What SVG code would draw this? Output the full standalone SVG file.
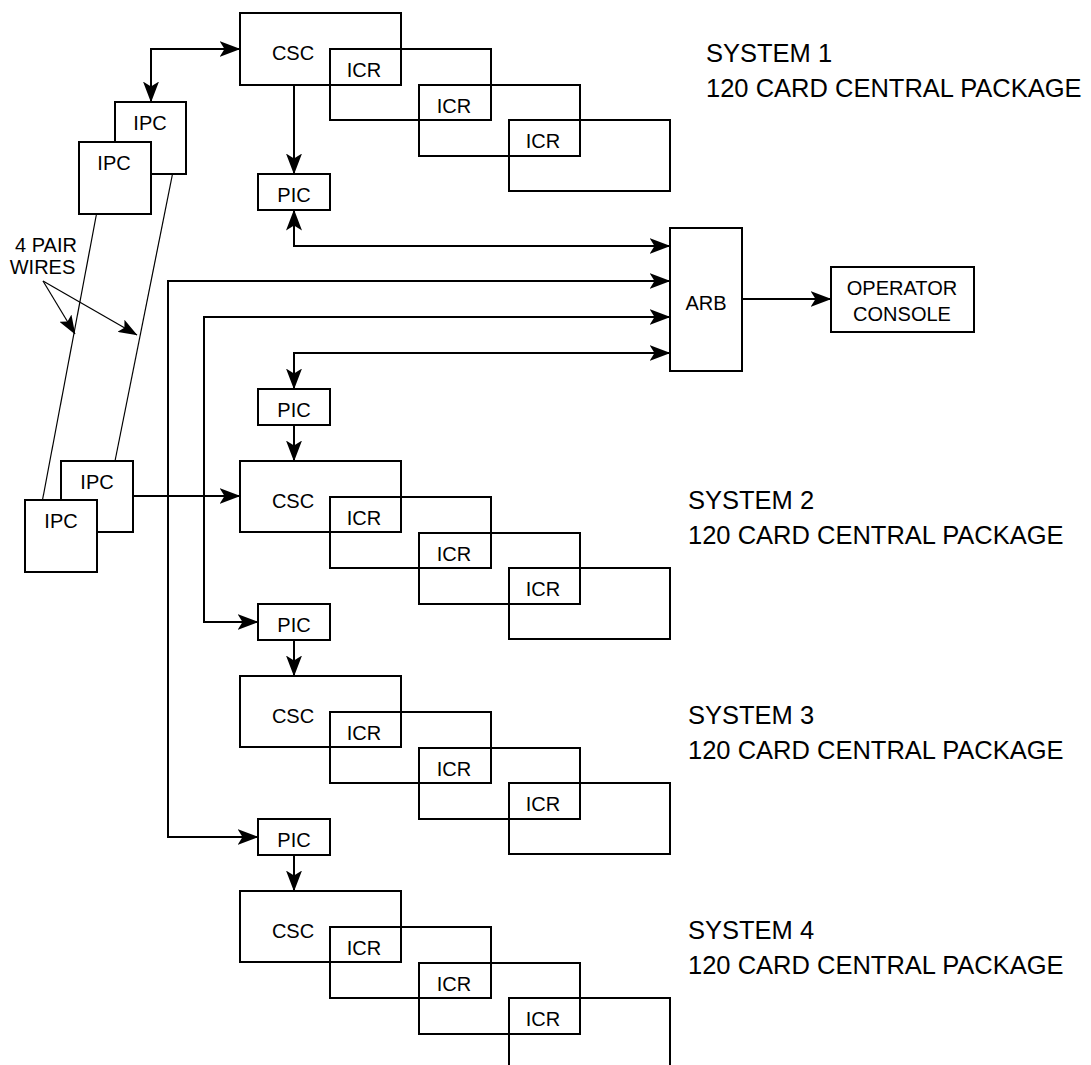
<svg xmlns="http://www.w3.org/2000/svg" width="1091" height="1065" viewBox="0 0 1091 1065">
<style>
.b{fill:none;stroke:#000;stroke-width:2}
.t{font-family:"Liberation Sans",Arial,sans-serif;font-size:20px;fill:#000;text-anchor:middle}
.s{font-family:"Liberation Sans",Arial,sans-serif;font-size:25.5px;fill:#000}
.c{fill:none;stroke:#000;stroke-width:2}
.w{fill:none;stroke:#000;stroke-width:1.2}
</style>
<defs>
<marker id="a" markerUnits="userSpaceOnUse" markerWidth="21" markerHeight="16" viewBox="0 0 21 16" refX="20.5" refY="8" orient="auto-start-reverse">
<path d="M0,0 L21,8 L0,16 L5,8 z" fill="#000"/>
</marker>
<marker id="aw" markerUnits="userSpaceOnUse" markerWidth="19" markerHeight="14" viewBox="0 0 19 14" refX="18.5" refY="7" orient="auto">
<path d="M0,0 L19,7 L0,14 L4,7 z" fill="#000"/>
</marker>
</defs>
<rect width="1091" height="1065" fill="#fff"/>

<g id="connectors">
<path class="c" d="M151,102 V49 H240" marker-start="url(#a)" marker-end="url(#a)"/>
<path class="c" d="M294,85 V174" marker-end="url(#a)"/>
<path class="c" d="M294,210 V246 H670" marker-start="url(#a)" marker-end="url(#a)"/>
<path class="c" d="M258,837 H168 V281 H670" marker-start="url(#a)" marker-end="url(#a)"/>
<path class="c" d="M258,622 H204 V317 H670" marker-start="url(#a)" marker-end="url(#a)"/>
<path class="c" d="M294,389 V353 H670" marker-start="url(#a)" marker-end="url(#a)"/>
<path class="c" d="M294,425 V461" marker-end="url(#a)"/>
<path class="c" d="M133,496 H240" marker-end="url(#a)"/>
<path class="c" d="M294,640 V676" marker-end="url(#a)"/>
<path class="c" d="M294,855 V891" marker-end="url(#a)"/>
<path class="c" d="M742,299 H831" marker-end="url(#a)"/>
<path class="w" d="M96.5,214 L42.5,500"/>
<path class="w" d="M172.5,174 L115,461"/>
<path class="w" d="M43,281 L75,334" marker-end="url(#aw)"/>
<path class="w" d="M43,281 L137,335" marker-end="url(#aw)"/>
</g>

<g id="wires-label">
<text class="t" x="46" y="252">4 PAIR</text>
<text class="t" x="42.5" y="274">WIRES</text>
</g>

<g id="ipc-upper-back"><rect class="b" x="115" y="102" width="71" height="72"/><text class="t" x="150" y="130">IPC</text></g>
<g id="ipc-upper-front"><rect class="b" x="79" y="142" width="72" height="72" style="fill:#fff"/><text class="t" x="114" y="170">IPC</text></g>
<g id="ipc-lower-back"><rect class="b" x="61" y="461" width="72" height="71"/><text class="t" x="97" y="489">IPC</text></g>
<g id="ipc-lower-front"><rect class="b" x="25" y="500" width="72" height="72" style="fill:#fff"/><text class="t" x="61" y="528">IPC</text></g>

<g id="pic1"><rect class="b" x="258" y="174" width="72" height="36"/><text class="t" x="294" y="202">PIC</text></g>
<g id="pic2"><rect class="b" x="258" y="389" width="72" height="36"/><text class="t" x="294" y="417">PIC</text></g>
<g id="pic3"><rect class="b" x="258" y="604" width="72" height="36"/><text class="t" x="294" y="632">PIC</text></g>
<g id="pic4"><rect class="b" x="258" y="819" width="72" height="36"/><text class="t" x="294" y="847">PIC</text></g>

<g id="arb"><rect class="b" x="670" y="228" width="72" height="143"/><text class="t" x="706" y="310">ARB</text></g>
<g id="console"><rect class="b" x="831" y="267" width="143" height="65"/><text class="t" x="902" y="295">OPERATOR</text><text class="t" x="902" y="321">CONSOLE</text></g>

<g id="system1">
<rect class="b" x="240" y="13" width="161" height="72"/><text class="t" x="293" y="60">CSC</text>
<rect class="b" x="330" y="49" width="161" height="71"/><text class="t" x="364" y="77">ICR</text>
<rect class="b" x="419" y="85" width="161" height="71"/><text class="t" x="454" y="113">ICR</text>
<rect class="b" x="509" y="120" width="161" height="71"/><text class="t" x="543" y="148">ICR</text>
<text class="s" x="706" y="62">SYSTEM 1</text><text class="s" x="706" y="97">120 CARD CENTRAL PACKAGE</text>
</g>

<g id="system2">
<rect class="b" x="240" y="461" width="161" height="71"/><text class="t" x="293" y="508">CSC</text>
<rect class="b" x="330" y="497" width="161" height="71"/><text class="t" x="364" y="525">ICR</text>
<rect class="b" x="419" y="533" width="161" height="71"/><text class="t" x="454" y="561">ICR</text>
<rect class="b" x="509" y="568" width="161" height="71"/><text class="t" x="543" y="596">ICR</text>
<text class="s" x="688" y="509">SYSTEM 2</text><text class="s" x="688" y="544">120 CARD CENTRAL PACKAGE</text>
</g>

<g id="system3">
<rect class="b" x="240" y="676" width="161" height="71"/><text class="t" x="293" y="723">CSC</text>
<rect class="b" x="330" y="712" width="161" height="71"/><text class="t" x="364" y="740">ICR</text>
<rect class="b" x="419" y="748" width="161" height="71"/><text class="t" x="454" y="776">ICR</text>
<rect class="b" x="509" y="783" width="161" height="71"/><text class="t" x="543" y="811">ICR</text>
<text class="s" x="688" y="724">SYSTEM 3</text><text class="s" x="688" y="759">120 CARD CENTRAL PACKAGE</text>
</g>

<g id="system4">
<rect class="b" x="240" y="891" width="161" height="71"/><text class="t" x="293" y="938">CSC</text>
<rect class="b" x="330" y="927" width="161" height="71"/><text class="t" x="364" y="955">ICR</text>
<rect class="b" x="419" y="963" width="161" height="71"/><text class="t" x="454" y="991">ICR</text>
<rect class="b" x="509" y="998" width="161" height="71"/><text class="t" x="543" y="1026">ICR</text>
<text class="s" x="688" y="939">SYSTEM 4</text><text class="s" x="688" y="974">120 CARD CENTRAL PACKAGE</text>
</g>
</svg>
